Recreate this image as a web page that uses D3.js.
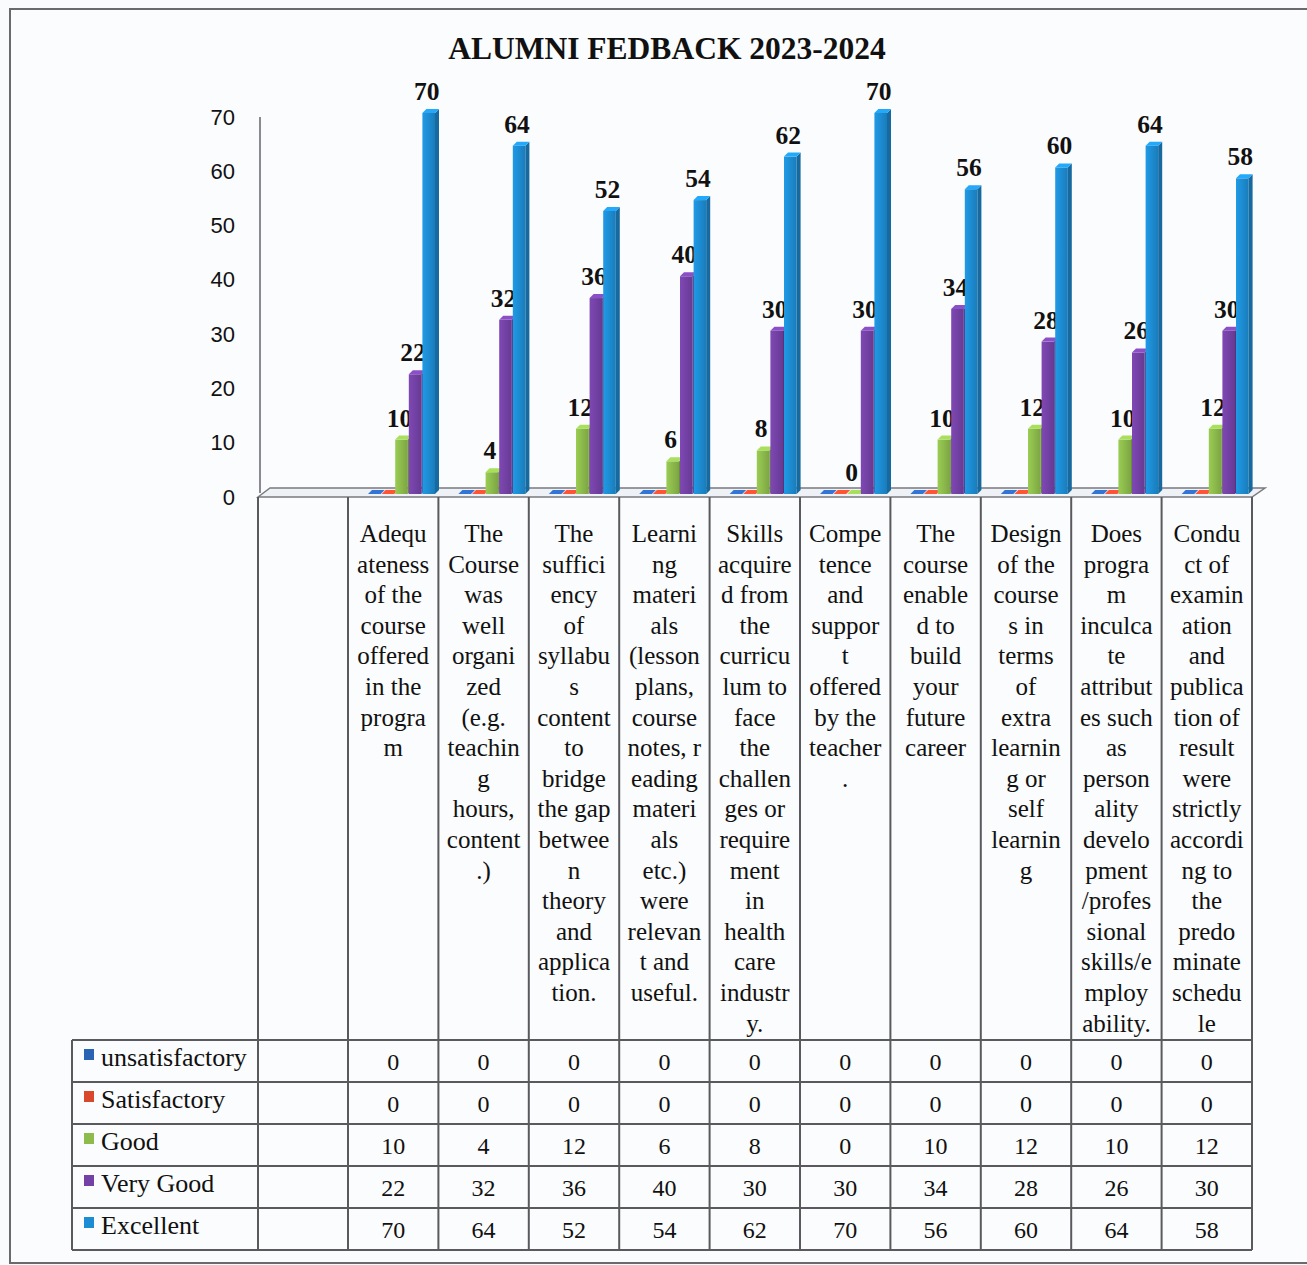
<!DOCTYPE html>
<html>
<head>
<meta charset="utf-8">
<script src="https://cdn.jsdelivr.net/npm/d3@7"></script>
<style>
  body { margin: 0; background: #fafbfc; }
  svg { display: block; }
</style>
</head>
<body>
<svg></svg>
<script>
// data
const title = "ALUMNI FEDBACK 2023-2024";
const categoryLines = [
  ["Adequ", "ateness", "of the", "course", "offered", "in the", "progra", "m"],
  ["The", "Course", "was", "well", "organi", "zed", "(e.g.", "teachin", "g", "hours,", "content", ".)"],
  ["The", "suffici", "ency", "of", "syllabu", "s", "content", "to", "bridge", "the gap", "betwee", "n", "theory", "and", "applica", "tion."],
  ["Learni", "ng", "materi", "als", "(lesson", "plans,", "course", "notes, r", "eading", "materi", "als", "etc.)", "were", "relevan", "t and", "useful."],
  ["Skills", "acquire", "d from", "the", "curricu", "lum to", "face", "the", "challen", "ges or", "require", "ment", "in", "health", "care", "industr", "y."],
  ["Compe", "tence", "and", "suppor", "t", "offered", "by the", "teacher", "."],
  ["The", "course", "enable", "d to", "build", "your", "future", "career"],
  ["Design", "of the", "course", "s in", "terms", "of", "extra", "learnin", "g or", "self", "learnin", "g"],
  ["Does", "progra", "m", "inculca", "te", "attribut", "es such", "as", "person", "ality", "develo", "pment", "/profes", "sional", "skills/e", "mploy", "ability."],
  ["Condu", "ct of", "examin", "ation", "and", "publica", "tion of", "result", "were", "strictly", "accordi", "ng to", "the", "predo", "minate", "schedu", "le"]
];
const categories = categoryLines.map(l => l.join(""));
const seriesNames = ["unsatisfactory", "Satisfactory", "Good", "Very Good", "Excellent"];
const unsatisfactory = [0, 0, 0, 0, 0, 0, 0, 0, 0, 0];
const satisfactory = [0, 0, 0, 0, 0, 0, 0, 0, 0, 0];
const good = [10, 4, 12, 6, 8, 0, 10, 12, 10, 12];
const veryGood = [22, 32, 36, 40, 30, 30, 34, 28, 26, 30];
const excellent = [70, 64, 52, 54, 62, 70, 56, 60, 64, 58];
const yTicks = [0, 10, 20, 30, 40, 50, 60, 70];
const seriesColors = ["#2a62b4", "#d9472c", "#8dbb4c", "#7442a6", "#1d8dd3"];
const labelledSeries = ["Good", "Very Good", "Excellent"];

const seriesValues = [unsatisfactory, satisfactory, good, veryGood, excellent];

const W = 1307, H = 1265;
const svg = d3.select("svg").attr("width", W).attr("height", H);

const serif = "'Liberation Serif', 'Times New Roman', serif";
const sans = "'Liberation Sans', Arial, sans-serif";
const lineCol = "#5a5a5e";

// outer frame
svg.append("rect")
  .attr("x", 10).attr("y", 9)
  .attr("width", W + 10).attr("height", 1254)
  .attr("fill", "#fbfcfd")
  .attr("stroke", "#6a6a6e").attr("stroke-width", 2);

// scales
const x = d3.scaleBand().domain(categories).range([348, 1252]).padding(0);
const xs = d3.scaleBand().domain(seriesNames).range([20, 88]).padding(0);
const y = d3.scaleLinear().domain([0, 70]).range([497, 117]);
const yBar = d3.scaleLinear().domain([0, 70]).range([494, 113]);
const depth = 4;

// title
svg.append("text")
  .attr("x", 667).attr("y", 59)
  .attr("text-anchor", "middle")
  .attr("font-family", serif).attr("font-weight", "bold")
  .attr("font-size", 31.5).attr("fill", "#111")
  .text(title);

// floor
const fl = 258, fr = x.range()[1], fb = y(0);
svg.append("path")
  .attr("d", `M${fl},${fb} L${fl + 12},${fb - 9} L${fr + 13},${fb - 9} L${fr},${fb} Z`)
  .attr("fill", "#eef1f6").attr("stroke", "#7a7a80").attr("stroke-width", 1.5);

// y axis
const yAxis = d3.axisLeft(y).tickValues(yTicks).tickSize(0).tickPadding(0);
const gy = svg.append("g").attr("transform", "translate(235,0)").call(yAxis);
gy.select(".domain").remove();
gy.selectAll("text")
  .attr("font-family", sans).attr("font-size", 22).attr("fill", "#111");
svg.append("line")
  .attr("x1", 260).attr("x2", 260)
  .attr("y1", y(70)).attr("y2", y(0) - 4)
  .attr("stroke", "#8a8a90").attr("stroke-width", 2);

// bars
const shade = (c, k) => d3.color(c).darker(k).formatHex();
const bright = (c, k) => d3.color(c).brighter(k).formatHex();
const defs = svg.append("defs");
seriesNames.forEach((s, i) => {
  const g = defs.append("linearGradient").attr("id", "grad" + i)
    .attr("x1", "0%").attr("x2", "100%").attr("y1", "0%").attr("y2", "0%");
  g.append("stop").attr("offset", "0%").attr("stop-color", bright(seriesColors[i], 0.25));
  g.append("stop").attr("offset", "45%").attr("stop-color", seriesColors[i]);
  g.append("stop").attr("offset", "100%").attr("stop-color", shade(seriesColors[i], 0.35));
});

categories.forEach((cat, ci) => {
  const g = svg.append("g").attr("transform", `translate(${x(cat)},0)`);
  seriesNames.forEach((s, si) => {
    const v = seriesValues[si][ci];
    const bx = xs(s), bw = xs.bandwidth() - 1;
    const top = yBar(v), base = yBar(0);
    // front
    g.append("rect")
      .attr("x", bx).attr("y", top)
      .attr("width", bw).attr("height", base - top)
      .attr("fill", `url(#grad${si})`);
    // side
    g.append("path")
      .attr("d", `M${bx + bw},${top} L${bx + bw + depth},${top - depth} L${bx + bw + depth},${base - depth} L${bx + bw},${base} Z`)
      .attr("fill", shade(seriesColors[si], 0.8));
    // top
    g.append("path")
      .attr("d", `M${bx},${top} L${bx + depth},${top - depth} L${bx + bw + depth},${top - depth} L${bx + bw},${top} Z`)
      .attr("fill", bright(seriesColors[si], 0.5));
    if (labelledSeries.includes(s)) {
      g.append("text")
        .attr("x", bx + bw / 2 - 2).attr("y", top - 13)
        .attr("text-anchor", "middle")
        .attr("font-family", serif).attr("font-weight", "bold")
        .attr("font-size", 25.5).attr("fill", "#111")
        .text(v);
    }
  });
});

// data table
const tTop = y(0), rowTop = 1040, rowH = 42;
const tLeft = 72, legRight = 258, tRight = x.range()[1];
const tbl = svg.append("g").attr("stroke", lineCol).attr("stroke-width", 2);

// vertical lines in category header + rows
tbl.append("line").attr("x1", legRight).attr("x2", legRight).attr("y1", tTop).attr("y2", rowTop + rowH * 5);
categories.forEach(cat => {
  tbl.append("line").attr("x1", x(cat)).attr("x2", x(cat)).attr("y1", tTop).attr("y2", rowTop + rowH * 5);
});
tbl.append("line").attr("x1", tRight).attr("x2", tRight).attr("y1", tTop).attr("y2", rowTop + rowH * 5);
tbl.append("line").attr("x1", tLeft).attr("x2", tLeft).attr("y1", rowTop).attr("y2", rowTop + rowH * 5);
d3.range(6).forEach(r => {
  tbl.append("line").attr("x1", tLeft).attr("x2", tRight)
    .attr("y1", rowTop + r * rowH).attr("y2", rowTop + r * rowH);
});

// category labels
categories.forEach((cat, ci) => {
  const t = svg.append("text")
    .attr("font-family", serif).attr("font-size", 25).attr("fill", "#111")
    .attr("text-anchor", "middle");
  categoryLines[ci].forEach((ln, li) => {
    t.append("tspan")
      .attr("x", x(cat) + x.bandwidth() / 2)
      .attr("y", 542 + li * 30.6)
      .text(ln);
  });
});

// legend rows and values
seriesNames.forEach((s, si) => {
  const cy = rowTop + si * rowH + rowH / 2;
  svg.append("rect")
    .attr("x", 84).attr("y", cy - 12)
    .attr("width", 10).attr("height", 11)
    .attr("fill", seriesColors[si]);
  svg.append("text")
    .attr("x", 101).attr("y", cy + 5)
    .attr("font-family", serif).attr("font-size", 26).attr("fill", "#111")
    .text(s);
  categories.forEach((cat, ci) => {
    svg.append("text")
      .attr("x", x(cat) + x.bandwidth() / 2).attr("y", cy + 9)
      .attr("text-anchor", "middle")
      .attr("font-family", serif).attr("font-size", 24).attr("fill", "#111")
      .text(seriesValues[si][ci]);
  });
});
</script>
</body>
</html>
